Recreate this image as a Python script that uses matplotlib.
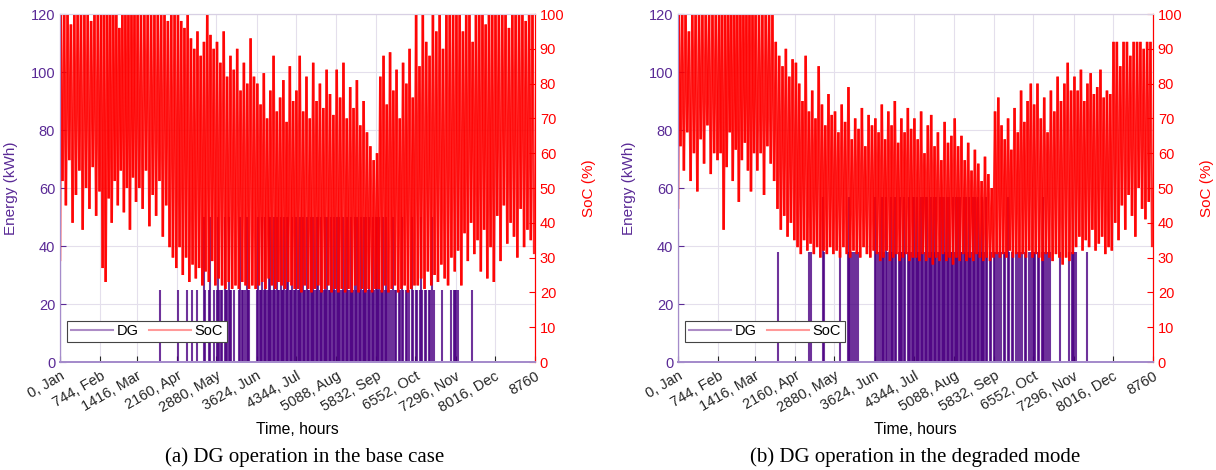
import matplotlib
matplotlib.use("Agg")
import matplotlib.pyplot as plt
import numpy as np
from matplotlib.collections import LineCollection
from matplotlib.lines import Line2D

plt.rcParams["font.family"] = ["Liberation Sans", "DejaVu Sans"]

# month boundaries in hours (also the x ticks)
MONTH_START = [0, 744, 1416, 2160, 2880, 3624, 4344, 5088, 5832, 6552, 7296, 8016, 8760]
TICK_LABELS = ["0, Jan", "744, Feb", "1416, Mar", "2160, Apr", "2880, May", "3624, Jun",
               "4344, Jul", "5088, Aug", "5832, Sep", "6552, Oct", "7296, Nov", "8016, Dec", "8760"]

# SoC (%) peaks / troughs, ~12 swings per month
SOC_A_START = 29
SOC_A_PEAKS = [
    [100, 100, 100, 97, 100, 100, 100, 100, 100, 98, 100, 100],
    [100, 100, 100, 100, 100, 100, 96, 100, 100, 100, 100, 100],
    [100, 100, 100, 100, 100, 100, 100, 100, 100, 98, 100, 100],
    [100, 98, 96, 100, 93, 90, 95, 88, 92, 100, 94, 90],
    [92, 86, 95, 82, 88, 84, 90, 78, 86, 80, 93, 82],
    [80, 74, 83, 70, 78, 88, 72, 76, 81, 69, 85, 75],
    [78, 88, 72, 82, 70, 86, 75, 80, 73, 84, 77, 71],
    [84, 76, 86, 70, 79, 73, 81, 68, 75, 66, 62, 58],
    [60, 82, 88, 74, 89, 78, 84, 70, 86, 80, 90, 76],
    [100, 85, 100, 92, 88, 100, 95, 100, 90, 100, 100, 100],
    [100, 100, 95, 100, 100, 92, 100, 100, 100, 97, 100, 100],
    [100, 100, 100, 100, 96, 100, 100, 100, 100, 98, 100, 100],
]
SOC_A_TROUGHS = [
    [52, 45, 58, 40, 48, 55, 38, 50, 44, 56, 42, 49],
    [27, 23, 47, 40, 52, 45, 55, 43, 50, 38, 53, 46],
    [50, 44, 55, 39, 48, 42, 52, 36, 45, 33, 30, 27],
    [33, 25, 30, 23, 28, 24, 27, 22, 26, 23, 29, 22],
    [24, 22, 21, 23, 21, 22, 21, 23, 22, 21, 22, 21],
    [22, 23, 21, 24, 22, 21, 23, 22, 21, 23, 22, 21],
    [21, 20, 22, 21, 20, 21, 22, 20, 21, 22, 20, 21],
    [20, 21, 20, 21, 20, 22, 20, 21, 20, 21, 20, 21],
    [21, 20, 22, 20, 21, 22, 20, 21, 22, 20, 21, 22],
    [22, 24, 21, 26, 22, 25, 23, 28, 24, 22, 30, 26],
    [32, 22, 37, 29, 40, 31, 35, 26, 38, 24, 33, 23],
    [42, 29, 45, 34, 40, 36, 30, 44, 33, 38, 35, 31],
]

SOC_B_START = 44
SOC_B_PEAKS = [
    [100, 100, 100, 95, 100, 100, 100, 100, 100, 100, 100, 100],
    [100, 100, 100, 100, 100, 100, 100, 100, 100, 100, 100, 100],
    [100, 100, 100, 100, 100, 100, 92, 88, 85, 90, 82, 87],
    [86, 80, 75, 88, 72, 78, 70, 85, 74, 68, 77, 71],
    [72, 66, 74, 69, 79, 64, 70, 67, 73, 62, 71, 68],
    [70, 66, 74, 64, 72, 68, 75, 63, 70, 66, 73, 67],
    [70, 64, 72, 60, 68, 71, 62, 66, 58, 69, 63, 65],
    [70, 62, 65, 58, 63, 55, 61, 57, 52, 59, 54, 50],
    [72, 76, 68, 64, 70, 61, 73, 66, 78, 69, 75, 80],
    [74, 80, 70, 76, 66, 78, 72, 82, 75, 80, 86, 78],
    [82, 78, 84, 75, 80, 83, 77, 79, 84, 76, 78, 77],
    [92, 92, 85, 92, 92, 88, 92, 92, 92, 90, 92, 92],
]
SOC_B_TROUGHS = [
    [62, 55, 66, 52, 60, 49, 64, 57, 68, 54, 60, 58],
    [60, 38, 56, 66, 52, 61, 46, 58, 63, 55, 49, 60],
    [55, 60, 48, 62, 57, 52, 44, 38, 42, 36, 40, 35],
    [33, 31, 35, 32, 34, 31, 33, 30, 32, 31, 33, 31],
    [32, 30, 33, 31, 30, 32, 31, 30, 33, 31, 30, 32],
    [31, 29, 30, 32, 29, 30, 31, 29, 30, 31, 29, 30],
    [30, 29, 31, 29, 30, 28, 30, 29, 31, 29, 30, 28],
    [30, 29, 31, 29, 30, 29, 31, 30, 29, 30, 29, 30],
    [31, 30, 31, 30, 32, 30, 31, 30, 31, 30, 32, 30],
    [31, 30, 29, 31, 30, 29, 31, 30, 28, 30, 29, 31],
    [33, 36, 32, 35, 33, 38, 32, 34, 36, 31, 33, 32],
    [40, 35, 45, 38, 48, 42, 36, 50, 44, 41, 46, 33],
]

# DG output per day: 0 = off, 1 = low level, 2 = high level (kWh levels below)
DG_A_LEVELS = [25, 50]
DG_A_START = 35
DG_A_DAYS = [
    "0" * 31,
    "0" * 28,
    "0" * 17 + "1" + "0" * 13,
    "100000010001000100002100120010",
    "12111021121101" + "000" + "121101211" + "00000",
    "1211212112" + "2112121121" + "1212211211",
    "2112121121" + "1212112212" + "1121211212" + "1",
    "2121121121" + "1211212112" + "1212121121" + "2",
    "212112121" + "101201101121011010210",
    "110121011011201" + "00000" + "1" + "000000" + "1011",
    "11" + "0" * 10 + "1" + "0" * 17,
    "0" * 31,
]

DG_B_LEVELS = [38, 57]
DG_B_START = 45
DG_B_DAYS = [
    "0" * 31,
    "0" * 28,
    "0" * 17 + "1" + "0" * 13,
    "0" * 10 + "1010" + "0" * 6 + "0210" + "0" * 6,
    "0000" + "1" + "00000" + "121101101" + "0" * 12,
    "2110121121" + "0121121012" + "1121012112",
    "2121121212" + "2112121211" + "2212121211" + "2",
    "1212211212" + "1211212121" + "1211210110" + "1",
    "1011010110" + "2101101011" + "0101101011",
    "1101101211011" + "0" * 7 + "1" + "0" * 6 + "1011",
    "11" + "0" * 8 + "1" + "0" * 19,
    "0" * 31,
]

DG_COLOR = "#4b0082"
AXIS_PURPLE = "#5a2a96"
SPINE_PURPLE = "#a58ccb"
GRID_COLOR = "#e4dfec"


def soc_points(peaks, troughs, start):
    xs, ys = [0.0], [start]
    for m in range(12):
        s, e = MONTH_START[m], MONTH_START[m + 1]
        step = (e - s) / len(peaks[m])
        for k in range(len(peaks[m])):
            xs += [s + (k + 0.25) * step, s + (k + 0.75) * step]
            ys += [peaks[m][k], troughs[m][k]]
    return np.array(xs), np.array(ys)


def dg_points(days_by_month, levels, start):
    xs, hs = [0.0], [start]
    day = 0
    for month in days_by_month:
        for c in month:
            if c != "0":
                xs.append(day * 24 + 12)
                hs.append(levels[int(c) - 1])
            day += 1
    assert day == 365, day
    return xs, hs


def draw_panel(ax, peaks, troughs, soc_start, dg_days, dg_levels, dg_start):
    dg_x, dg_h = dg_points(dg_days, dg_levels, dg_start)
    ax.vlines(dg_x, 0, dg_h, colors=DG_COLOR, alpha=0.8, linewidth=1.5)
    ax.set_xlim(0, 8760)
    ax.set_ylim(0, 120)
    ax.set_yticks(range(0, 121, 20))
    ax.set_xticks(MONTH_START)
    ax.set_xticklabels(TICK_LABELS, rotation=30, ha="right", rotation_mode="anchor")
    ax.tick_params(axis="x", direction="in", length=4, colors="#262626", labelsize=10.5, pad=5)
    ax.tick_params(axis="y", direction="in", length=4, colors=AXIS_PURPLE, labelsize=10.5)
    ax.grid(True, color=GRID_COLOR, linewidth=0.8)
    ax.set_axisbelow(True)
    ax.set_ylabel("Energy (kWh)", color=AXIS_PURPLE, fontsize=11)
    ax.yaxis.set_label_coords(-0.088, 0.5)

    ax2 = ax.twinx()
    sx, sy = soc_points(peaks, troughs, soc_start)
    pts = np.column_stack([sx, sy])
    segs = np.stack([pts[:-1], pts[1:]], axis=1)
    ax2.add_collection(LineCollection(segs, colors="#ff0000", alpha=0.85, linewidths=1.8))
    ax2.set_ylim(0, 100)
    ax2.set_yticks(range(0, 101, 10))
    ax2.tick_params(axis="y", direction="in", length=4, colors="#ff0000", labelsize=10.5)
    ax2.set_ylabel("SoC (%)", color="#ff0000", fontsize=11)
    ax2.yaxis.set_label_coords(1.099, 0.5)

    for a in (ax, ax2):
        a.spines["left"].set_color(SPINE_PURPLE)
        a.spines["bottom"].set_color(SPINE_PURPLE)
        a.spines["bottom"].set_linewidth(1.4)
        a.spines["top"].set_color("#d8d0e4")
        a.spines["right"].set_color("#ff0000")

    handles = [
        Line2D([], [], color=DG_COLOR, alpha=0.45, linewidth=1.5, label="DG"),
        Line2D([], [], color="#ff0000", alpha=0.4, linewidth=1.5, label="SoC"),
    ]
    leg = ax2.legend(handles=handles, loc="lower left", bbox_to_anchor=(7 / 475, 20 / 348),
                     ncol=2, fontsize=10.5, frameon=True, fancybox=False, edgecolor="#444444",
                     framealpha=1, handlelength=2.9, handletextpad=0.25, columnspacing=0.7,
                     borderpad=0.25, borderaxespad=0)
    leg.get_frame().set_linewidth(0.8)


fig = plt.figure(figsize=(12.16, 4.70), dpi=100)
W, H = 1216, 470
ax_a = fig.add_axes([60 / W, 1 - 362 / H, 475 / W, 348 / H])
ax_b = fig.add_axes([678 / W, 1 - 362 / H, 475 / W, 348 / H])

draw_panel(ax_a, SOC_A_PEAKS, SOC_A_TROUGHS, SOC_A_START, DG_A_DAYS, DG_A_LEVELS, DG_A_START)
draw_panel(ax_b, SOC_B_PEAKS, SOC_B_TROUGHS, SOC_B_START, DG_B_DAYS, DG_B_LEVELS, DG_B_START)

fig.text(297.5 / W, 1 - 430 / H, "Time, hours", ha="center", va="center", fontsize=11.3)
fig.text(915.5 / W, 1 - 430 / H, "Time, hours", ha="center", va="center", fontsize=11.3)
fig.text(305 / W, 1 - 457 / H, "(a) DG operation in the base case", ha="center", va="center",
         fontsize=15, family="Liberation Serif")
fig.text(915 / W, 1 - 457 / H, "(b) DG operation in the degraded mode", ha="center", va="center",
         fontsize=15, family="Liberation Serif")

fig.savefig("out.png", dpi=100, facecolor="white")
